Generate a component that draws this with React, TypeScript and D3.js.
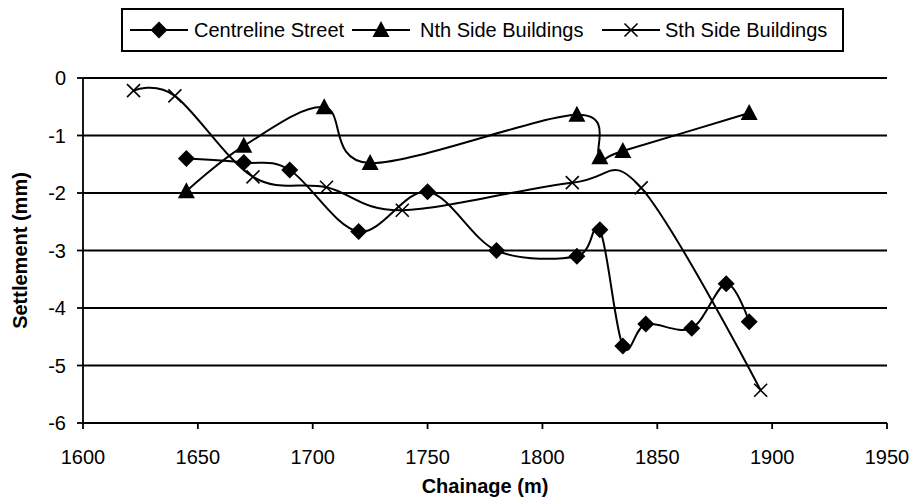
import React from "react";
import * as d3 from "d3";

const centrelineX = [1645, 1670, 1690, 1720, 1750, 1780, 1815, 1825, 1835, 1845, 1865, 1880, 1890];
const centrelineY = [-1.4, -1.47, -1.6, -2.67, -1.98, -3.0, -3.1, -2.64, -4.66, -4.28, -4.35, -3.58, -4.24];
const nthX = [1645, 1670, 1705, 1725, 1815, 1825, 1835, 1890];
const nthY = [-1.97, -1.18, -0.51, -1.48, -0.64, -1.38, -1.27, -0.61];
const sthX = [1622, 1640, 1674, 1706, 1739, 1813, 1843, 1895];
const sthY = [-0.22, -0.31, -1.72, -1.9, -2.3, -1.82, -1.91, -5.43];
const xTicks = [1600, 1650, 1700, 1750, 1800, 1850, 1900, 1950];
const yTicks = [0, -1, -2, -3, -4, -5, -6];
const seriesNames = ["Centreline Street", "Nth Side Buildings", "Sth Side Buildings"];

const W = 913, H = 499;
const left = 83, right = 887, top = 78, bottom = 423;
const FONT = "'Liberation Sans', Arial, sans-serif";

function Marker({ kind, x, y }: { kind: string; x: number; y: number }) {
  if (kind === "diamond") {
    const s = 8.5;
    return <path d={`M${x},${y - s}L${x + s},${y}L${x},${y + s}L${x - s},${y}Z`} fill="#000" />;
  }
  if (kind === "triangle") {
    return <path d={`M${x},${y - 9}L${x + 8.5},${y + 7}L${x - 8.5},${y + 7}Z`} fill="#000" />;
  }
  const s = 6.5;
  return (
    <path d={`M${x - s},${y - s}L${x + s},${y + s}M${x - s},${y + s}L${x + s},${y - s}`} stroke="#000" strokeWidth={1.6} fill="none" />
  );
}

export default function App() {
  const x = d3.scaleLinear().domain([1600, 1950]).range([left, right]);
  const y = d3.scaleLinear().domain([0, -6]).range([top, bottom]);
  const line = d3
    .line<[number, number]>()
    .x((d) => x(d[0]))
    .y((d) => y(d[1]))
    .curve(d3.curveCardinal.tension(0));

  const series = [
    { kind: "diamond", xs: centrelineX, ys: centrelineY },
    { kind: "triangle", xs: nthX, ys: nthY },
    { kind: "cross", xs: sthX, ys: sthY },
  ];

  const legendItems = [
    { kind: "diamond", lx: 130, tx: 194 },
    { kind: "triangle", lx: 352, tx: 420 },
    { kind: "cross", lx: 602, tx: 665 },
  ];

  return (
    <svg width={W} height={H} style={{ position: "absolute", left: 0, top: 0 }} fontFamily={FONT}>
      <rect x={0} y={0} width={W} height={H} fill="#fff" />
      {yTicks.map((t) => (
        <g key={t}>
          <line x1={left} x2={right} y1={y(t)} y2={y(t)} stroke="#000" strokeWidth={1.8} />
          <line x1={left - 6} x2={left} y1={y(t)} y2={y(t)} stroke="#000" strokeWidth={1.8} />
          <text x={66} y={y(t) + 7} textAnchor="end" fontSize={20}>
            {t}
          </text>
        </g>
      ))}
      <line x1={left} x2={left} y1={top} y2={bottom} stroke="#000" strokeWidth={1.8} />
      {xTicks.map((t) => (
        <g key={t}>
          <line x1={x(t)} x2={x(t)} y1={bottom} y2={bottom + 6} stroke="#000" strokeWidth={1.8} />
          <text x={x(t)} y={464} textAnchor="middle" fontSize={20}>
            {t}
          </text>
        </g>
      ))}
      {series.map((s, i) => {
        const pts = s.xs.map((v, j) => [v, s.ys[j]] as [number, number]);
        return (
          <g key={i}>
            <path d={line(pts) || ""} fill="none" stroke="#000" strokeWidth={2} />
            {pts.map((p, j) => (
              <Marker key={j} kind={s.kind} x={x(p[0])} y={y(p[1])} />
            ))}
          </g>
        );
      })}
      <text x={(left + right) / 2} y={493} textAnchor="middle" fontSize={20} fontWeight="bold">
        Chainage (m)
      </text>
      <text
        transform={`translate(27,${(top + bottom) / 2}) rotate(-90)`}
        textAnchor="middle"
        fontSize={20}
        fontWeight="bold"
      >
        Settlement (mm)
      </text>
      <rect x={122} y={9} width={721} height={42} fill="#fff" stroke="#000" strokeWidth={2} />
      {legendItems.map((it, i) => (
        <g key={i}>
          <line x1={it.lx} x2={it.lx + 58} y1={30} y2={30} stroke="#000" strokeWidth={2} />
          <Marker kind={it.kind} x={it.lx + 29} y={30} />
          <text x={it.tx} y={37} fontSize={20}>
            {seriesNames[i]}
          </text>
        </g>
      ))}
    </svg>
  );
}
